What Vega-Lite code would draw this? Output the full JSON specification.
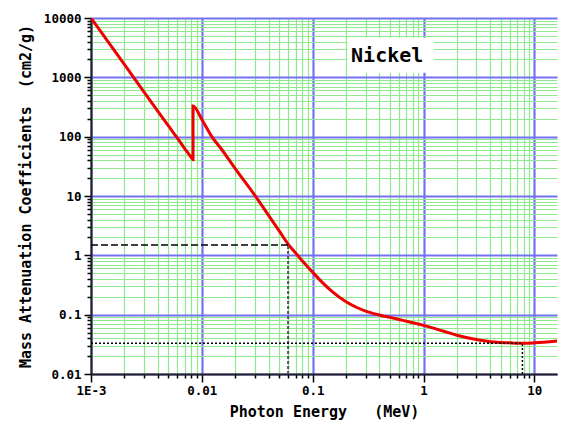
{
  "$schema": "https://vega.github.io/schema/vega-lite/v6.json",
  "width": 466,
  "height": 356,
  "autosize": {"type": "none"},
  "padding": {"left": 91, "top": 18, "right": 4, "bottom": 56},
  "background": "white",
  "view": {"stroke": null},
  "datasets": {
    "curve": [
      {"i": 1, "E": 0.001, "mu": 10000},
      {"i": 2, "E": 0.0015, "mu": 3480},
      {"i": 3, "E": 0.002, "mu": 1650},
      {"i": 4, "E": 0.003, "mu": 570},
      {"i": 5, "E": 0.004, "mu": 270},
      {"i": 6, "E": 0.005, "mu": 152},
      {"i": 7, "E": 0.006, "mu": 95},
      {"i": 8, "E": 0.007, "mu": 63},
      {"i": 9, "E": 0.008, "mu": 45},
      {"i": 10, "E": 0.00833, "mu": 41},
      {"i": 11, "E": 0.00833, "mu": 330},
      {"i": 12, "E": 0.01, "mu": 195},
      {"i": 13, "E": 0.0123, "mu": 100},
      {"i": 14, "E": 0.015, "mu": 62},
      {"i": 15, "E": 0.02, "mu": 29},
      {"i": 16, "E": 0.03, "mu": 10.3},
      {"i": 17, "E": 0.04, "mu": 4.7},
      {"i": 18, "E": 0.05, "mu": 2.55},
      {"i": 19, "E": 0.06, "mu": 1.55},
      {"i": 20, "E": 0.07, "mu": 1.1},
      {"i": 21, "E": 0.08, "mu": 0.82},
      {"i": 22, "E": 0.1, "mu": 0.52},
      {"i": 23, "E": 0.12, "mu": 0.36},
      {"i": 24, "E": 0.15, "mu": 0.245},
      {"i": 25, "E": 0.2, "mu": 0.165},
      {"i": 26, "E": 0.25, "mu": 0.132},
      {"i": 27, "E": 0.3, "mu": 0.115},
      {"i": 28, "E": 0.4, "mu": 0.099},
      {"i": 29, "E": 0.5, "mu": 0.09},
      {"i": 30, "E": 0.6, "mu": 0.083},
      {"i": 31, "E": 0.8, "mu": 0.073},
      {"i": 32, "E": 1, "mu": 0.066},
      {"i": 33, "E": 1.5, "mu": 0.053},
      {"i": 34, "E": 2, "mu": 0.045},
      {"i": 35, "E": 3, "mu": 0.038},
      {"i": 36, "E": 4, "mu": 0.035},
      {"i": 37, "E": 5, "mu": 0.034},
      {"i": 38, "E": 6, "mu": 0.0335},
      {"i": 39, "E": 8, "mu": 0.033},
      {"i": 40, "E": 10, "mu": 0.0335},
      {"i": 41, "E": 16, "mu": 0.036}
    ],
    "refs": [
      {"kind": "dash", "x": 0.001, "x2": 0.06, "y": 1.5, "y2": 1.5},
      {"kind": "dashv", "x": 0.06, "x2": 0.06, "y": 0.01, "y2": 1.5},
      {"kind": "dot", "x": 0.001, "x2": 7.8, "y": 0.033, "y2": 0.033},
      {"kind": "dot", "x": 7.8, "x2": 7.8, "y": 0.01, "y2": 0.033}
    ],
    "label": [{"name": "Nickel"}]
  },
  "layer": [
    {
      "data": {"name": "curve"},
      "mark": {"type": "line", "color": "#ee0000", "strokeWidth": 3, "clip": true, "interpolate": "monotone"},
      "encoding": {
        "x": {
          "field": "E", "type": "quantitative",
          "scale": {"type": "log", "domain": [0.001, 16], "nice": false},
          "axis": {
            "values": [0.001,0.002,0.003,0.004,0.005,0.006,0.007,0.008,0.009,0.01,0.02,0.03,0.04,0.05,0.06,0.07,0.08,0.09,0.1,0.2,0.3,0.4,0.5,0.6,0.7,0.8,0.9,1,2,3,4,5,6,7,8,9,10],
            "grid": true,
            "gridColor": {"condition": {"test": "abs(log(datum.value)/LN10 - round(log(datum.value)/LN10)) < 0.001", "value": "#7272f2"}, "value": "#8fea8f"},
            "gridWidth": {"condition": {"test": "abs(log(datum.value)/LN10 - round(log(datum.value)/LN10)) < 0.001", "value": 2.2}, "value": 1.2},
            "tickSize": {"condition": {"test": "abs(log(datum.value)/LN10 - round(log(datum.value)/LN10)) < 0.001", "value": 8}, "value": 4},
            "tickColor": "#000",
            "tickWidth": 1.5,
            "domainColor": "#222",
            "domainWidth": 2,
            "labelExpr": "abs(log(datum.value)/LN10 - round(log(datum.value)/LN10)) < 0.001 ? (datum.value < 0.002 ? '1E-3' : '' + datum.value) : ''",
            "labelFont": "DejaVu Sans Mono",
            "labelFontWeight": "bold",
            "labelFontSize": 12.5,
            "labelColor": "#000",
            "labelPadding": 2,
            "labelFlush": false,
            "labelOverlap": false,
            "title": "Photon Energy\u00a0\u00a0\u00a0(MeV)",
            "titleFont": "DejaVu Sans Mono",
            "titleFontWeight": "bold",
            "titleFontSize": 15,
            "titleColor": "#000",
            "titlePadding": 8
          }
        },
        "y": {
          "field": "mu", "type": "quantitative",
          "scale": {"type": "log", "domain": [0.01, 10000], "nice": false},
          "axis": {
            "values": [0.01,0.02,0.03,0.04,0.05,0.06,0.07,0.08,0.09,0.1,0.2,0.3,0.4,0.5,0.6,0.7,0.8,0.9,1,2,3,4,5,6,7,8,9,10,20,30,40,50,60,70,80,90,100,200,300,400,500,600,700,800,900,1000,2000,3000,4000,5000,6000,7000,8000,9000,10000],
            "grid": true,
            "gridColor": {"condition": {"test": "abs(log(datum.value)/LN10 - round(log(datum.value)/LN10)) < 0.001", "value": "#7272f2"}, "value": "#8fea8f"},
            "gridWidth": {"condition": {"test": "abs(log(datum.value)/LN10 - round(log(datum.value)/LN10)) < 0.001", "value": 2.2}, "value": 1.2},
            "tickSize": {"condition": {"test": "abs(log(datum.value)/LN10 - round(log(datum.value)/LN10)) < 0.001", "value": 7}, "value": 4},
            "tickColor": "#000",
            "tickWidth": 1.5,
            "domainColor": "#222",
            "domainWidth": 2,
            "labelExpr": "abs(log(datum.value)/LN10 - round(log(datum.value)/LN10)) < 0.001 ? '' + datum.value : ''",
            "labelFont": "DejaVu Sans Mono",
            "labelFontWeight": "bold",
            "labelFontSize": 12.5,
            "labelColor": "#000",
            "labelPadding": 3,
            "labelOverlap": false,
            "title": "Mass Attenuation Coefficients\u00a0\u00a0(cm2/g)",
            "titleFont": "DejaVu Sans Mono",
            "titleFontWeight": "bold",
            "titleFontSize": 15,
            "titleColor": "#000",
            "titlePadding": 10
          }
        },
        "order": {"field": "i", "type": "quantitative"}
      }
    },
    {
      "data": {"name": "label"},
      "mark": {"type": "rect", "color": "white"},
      "encoding": {
        "x": {"datum": 0.2065, "type": "quantitative"},
        "x2": {"datum": 1.236},
        "y": {"datum": 1197, "type": "quantitative"},
        "y2": {"datum": 4650}
      }
    },
    {
      "data": {"name": "label"},
      "mark": {"type": "text", "font": "DejaVu Sans Mono", "fontWeight": "bold", "fontSize": 20, "color": "#000", "baseline": "middle", "align": "center"},
      "encoding": {
        "x": {"datum": 0.47, "type": "quantitative"},
        "y": {"datum": 2310, "type": "quantitative"},
        "text": {"field": "name"}
      }
    },
    {
      "data": {"name": "refs"},
      "transform": [{"filter": "datum.kind == 'dash'"}],
      "mark": {"type": "rule", "color": "#000", "strokeWidth": 1.5, "strokeDash": [7, 3]},
      "encoding": {
        "x": {"field": "x", "type": "quantitative"},
        "x2": {"field": "x2"},
        "y": {"field": "y", "type": "quantitative"},
        "y2": {"field": "y2"}
      }
    },
    {
      "data": {"name": "refs"},
      "transform": [{"filter": "datum.kind == 'dashv'"}],
      "mark": {"type": "rule", "color": "#555", "strokeWidth": 2, "strokeDash": [3, 2]},
      "encoding": {
        "x": {"field": "x", "type": "quantitative"},
        "x2": {"field": "x2"},
        "y": {"field": "y", "type": "quantitative"},
        "y2": {"field": "y2"}
      }
    },
    {
      "data": {"name": "refs"},
      "transform": [{"filter": "datum.kind == 'dot'"}],
      "mark": {"type": "rule", "color": "#000", "strokeWidth": 1.5, "strokeDash": [2, 2]},
      "encoding": {
        "x": {"field": "x", "type": "quantitative"},
        "x2": {"field": "x2"},
        "y": {"field": "y", "type": "quantitative"},
        "y2": {"field": "y2"}
      }
    }
  ]
}
